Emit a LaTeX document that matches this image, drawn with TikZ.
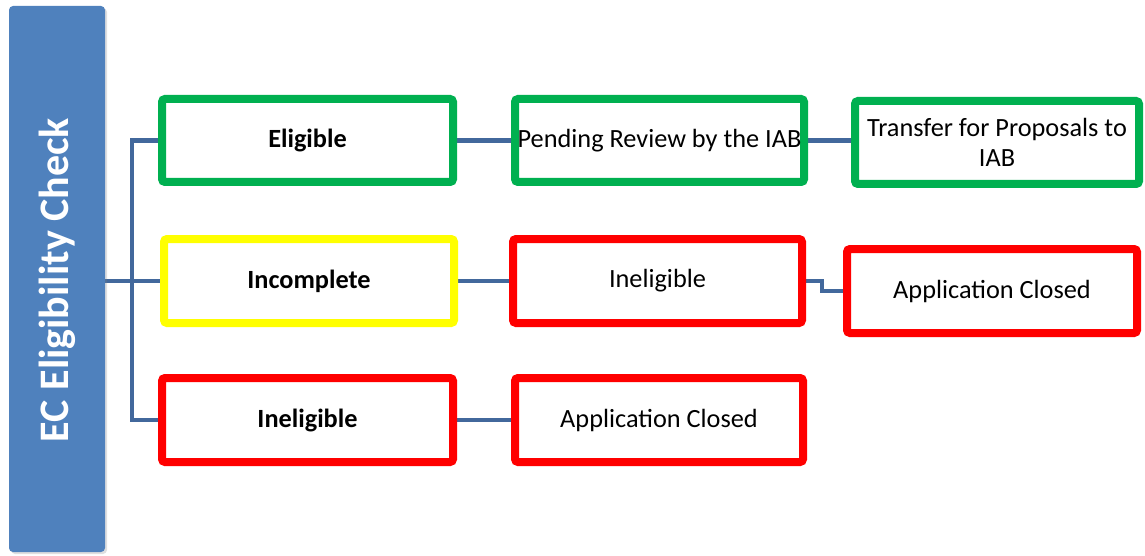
\documentclass[tikz,border=0pt]{standalone}
\usepackage{fontspec}
\setmainfont{Carlito}
\usetikzlibrary{shadows,backgrounds}
\definecolor{barblue}{RGB}{79,129,189}
\definecolor{linkblue}{RGB}{66,104,156}
\definecolor{okgreen}{RGB}{0,176,80}
\definecolor{warnyellow}{RGB}{255,255,0}
\definecolor{badred}{RGB}{255,0,0}
\tikzset{
  card/.style={draw, line width=8pt, fill=white, rounded corners=3pt,
    inner sep=0pt, font=\fontsize{26.3}{30}\selectfont, align=center,
    drop shadow={opacity=0.25, shadow xshift=2pt, shadow yshift=-3pt}},
  link/.style={draw=linkblue, line width=4.5pt},
}
\begin{document}
\begin{tikzpicture}[x=1pt,y=-1pt]
\useasboundingbox (0,0) rectangle (1145,556);
% side bar
\node[fill=barblue, rounded corners=4pt, minimum width=96pt, minimum height=546pt,
  inner sep=0pt, drop shadow={opacity=0.25, shadow xshift=2pt, shadow yshift=-2pt}]
  (bar) at (57,279) {};
\node[rotate=90, text=white, font=\fontsize{42}{48}\selectfont\bfseries] (title) at (57,280) {EC Eligibility Check};
% outcome cards
\node[card, draw=okgreen, minimum width=291pt, minimum height=83pt] (elig) at (307.5,140.5) {\textbf{Eligible}};
\node[card, draw=okgreen, minimum width=289pt, minimum height=83pt] (pend) at (659.5,140.5) {Pending Review by the IAB};
\node[card, draw=okgreen, minimum width=284pt, minimum height=83pt] (trans) at (997,142.5) {Transfer for Proposals to\\IAB};
\node[card, draw=warnyellow, minimum width=290pt, minimum height=84pt] (incomp) at (309,281) {\textbf{Incomplete}};
\node[card, draw=badred, minimum width=289pt, minimum height=84pt] (inelA) at (657.5,281) {Ineligible};
\node[card, draw=badred, minimum width=290pt, minimum height=84pt] (closedA) at (992,291) {Application Closed};
\node[card, draw=badred, minimum width=291pt, minimum height=84pt] (inelB) at (307.5,420) {\textbf{Ineligible}};
\node[card, draw=badred, minimum width=288pt, minimum height=84pt] (closedB) at (659,420) {Application Closed};
% connectors
\begin{scope}[on background layer]
  \draw[link] (bar.east |- incomp.west) -- (incomp.west);
  \draw[link] (elig.west) -- ++(-26,0) |- (inelB.west);
  \draw[link] (elig.east) -- (pend.west);
  \draw[link] (pend.east) -- (pend.east -| trans.west);
  \draw[link] (incomp.east) -- (inelA.west);
  \draw[link] (inelA.east) -- ++(16,0) |- (closedA.west);
  \draw[link] (inelB.east) -- (closedB.west);
\end{scope}
\end{tikzpicture}
\end{document}
